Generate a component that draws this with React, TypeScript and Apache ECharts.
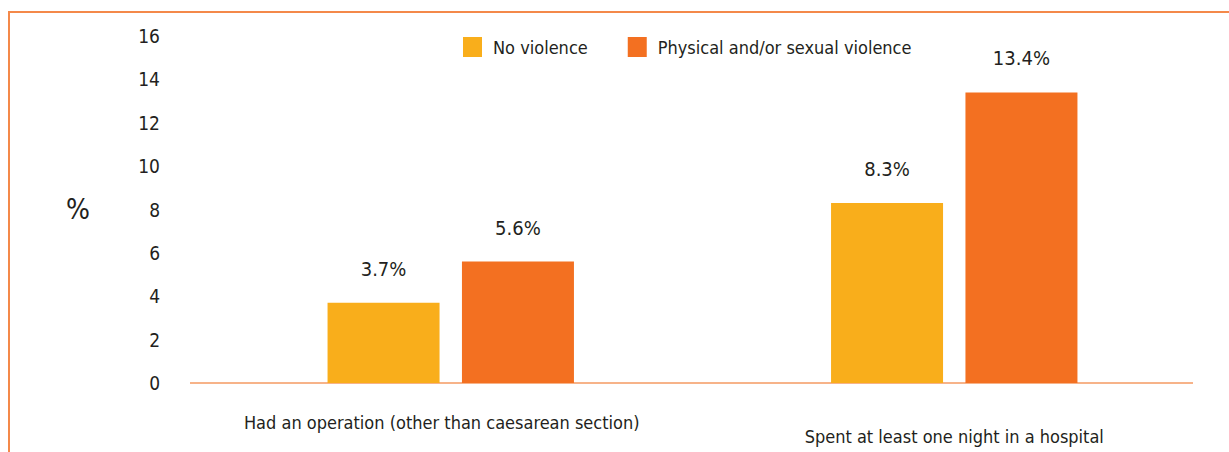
import React, { useEffect, useRef } from "react";
import * as echarts from "echarts";

const categories = [
  "Had an operation (other than caesarean section)",
  "Spent at least one night in a hospital",
];
const seriesNames = ["No violence", "Physical and/or sexual violence"];
const noViolence = [3.7, 8.3];
const violence = [5.6, 13.4];
const yTicks = { min: 0, max: 16, interval: 2 };

const FONT = "'Liberation Sans Narrow', 'DejaVu Sans Condensed', 'Arial Narrow', sans-serif";
const TEXT = "#231F20";
const YELLOW = "#F9AE1B";
const ORANGE = "#F37021";
const FRAME = "#F4894A";

export default function App() {
  const ref = useRef<HTMLDivElement>(null);
  useEffect(() => {
    if (!ref.current) return;
    const chart = echarts.init(ref.current, undefined, { renderer: "svg" });
    const labelCfg = {
      show: true,
      position: "top",
      distance: 24,
      color: TEXT,
      fontFamily: FONT,
      fontSize: 20,
      formatter: (p: any) => `${p.value}%`,
    };
    chart.setOption({
      animation: false,
      backgroundColor: "#ffffff",
      textStyle: { fontFamily: FONT },
      legend: {
        data: seriesNames,
        left: 463,
        top: 37,
        padding: 0,
        itemWidth: 19,
        itemHeight: 20,
        itemGap: 40,
        icon: "rect",
        textStyle: { color: TEXT, fontFamily: FONT, fontSize: 18, padding: [0, 0, 0, 6] },
      },
      grid: { left: 199, right: 23, top: 36, bottom: 69 },
      xAxis: {
        type: "category",
        data: categories,
        axisLine: { show: false },
        axisTick: { show: false },
        axisLabel: {
          margin: 30,
          color: TEXT,
          fontFamily: FONT,
          fontSize: 18,
          interval: 0,
          formatter: (v: string, i: number) => (i === 0 ? `{a|${v}}` : `{b|${v}}`),
          rich: {
            a: { fontFamily: FONT, fontSize: 18, color: TEXT, padding: [0, 18, 0, 0] },
            b: { fontFamily: FONT, fontSize: 18, color: TEXT, padding: [14, 0, 0, 0] },
          },
        },
      },
      yAxis: {
        type: "value",
        min: yTicks.min,
        max: yTicks.max,
        interval: yTicks.interval,
        name: "%",
        nameLocation: "middle",
        nameRotate: 0,
        nameGap: 109,
        nameTextStyle: { color: TEXT, fontFamily: FONT, fontSize: 28 },
        axisLine: { show: false },
        axisTick: { show: false },
        splitLine: { show: false },
        axisLabel: { margin: 39, color: TEXT, fontFamily: FONT, fontSize: 19 },
      },
      series: [
        {
          name: seriesNames[0],
          type: "bar",
          data: noViolence,
          barWidth: 112,
          barGap: "20%",
          itemStyle: { color: YELLOW },
          label: labelCfg,
        },
        {
          name: seriesNames[1],
          type: "bar",
          data: violence,
          barWidth: 112,
          barGap: "20%",
          itemStyle: { color: ORANGE },
          label: labelCfg,
        },
      ],
      graphic: [
        {
          type: "rect",
          shape: { x: 9, y: 12, width: 1400, height: 600 },
          style: { fill: "none", stroke: FRAME, lineWidth: 2 },
          silent: true,
        },
        {
          type: "line",
          shape: { x1: 190, y1: 383, x2: 1193, y2: 383 },
          style: { stroke: "#F59A62", lineWidth: 1.5 },
          silent: true,
        },
      ],
    });
    return () => chart.dispose();
  }, []);
  return (
    <div
      ref={ref}
      style={{ position: "fixed", left: 0, top: 0, width: 1229, height: 452 }}
    />
  );
}
